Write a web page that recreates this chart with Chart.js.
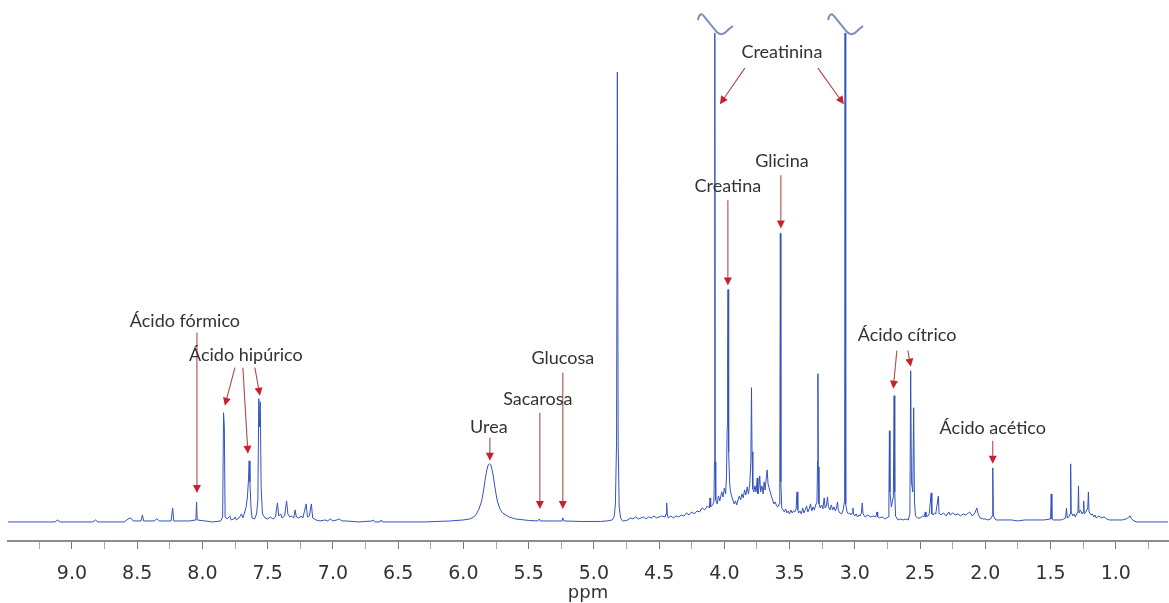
<!DOCTYPE html>
<html>
<head>
<meta charset="utf-8">
<script src="https://cdn.jsdelivr.net/npm/chart.js@4.4.1/dist/chart.umd.min.js"></script>
<style>
  html, body { margin: 0; padding: 0; background: #fff; }
  #wrap { width: 1169px; height: 603px; }
</style>
</head>
<body>
<div id="wrap"><canvas id="nmrChart"></canvas></div>
<script>
// espectro 1H RMN, [ppm, intensidad]
var regionAromatica = [
    [9.49,0],[9.13,0],[9.11,2],[9.09,0],[8.84,0],[8.82,2],[8.80,0],[8.60,0],[8.57,3],[8.55,4],[8.53,1],
    [8.47,1],[8.46,7],[8.45,1],[8.37,1],[8.35,3],[8.33,1],[8.24,1],[8.228,14],[8.22,1],[8.10,1],
    [8.05,2],[8.045,20],[8.04,2],[7.98,1],[7.92,0],[7.86,1],[7.845,5],[7.838,109],[7.832,95],[7.826,5],
    [7.81,3],[7.79,6],[7.78,2],[7.76,3],[7.75,5],[7.74,2],[7.72,4],[7.70,8],[7.69,4],[7.68,8],
    [7.665,15],[7.655,25],[7.647,42],[7.642,61],[7.636,40],[7.628,15],[7.62,4],[7.60,3],[7.585,8],
    [7.575,22],[7.568,123],[7.562,95],[7.557,120],[7.55,35],[7.54,8],[7.52,4],[7.50,3],[7.48,5],
    [7.46,3],[7.44,5],[7.425,19],[7.415,6],[7.40,8],[7.39,4],[7.37,6],[7.355,21],[7.345,8],[7.33,5],
    [7.32,6],[7.30,4],[7.29,12],[7.28,5],[7.26,4],[7.245,6],[7.23,4],[7.205,18],[7.195,5],[7.18,6],
    [7.165,18],[7.155,4],[7.13,2],[7.10,1],[7.06,2],[7.04,1],[7.02,3],[7.00,1],[6.97,2],[6.95,3],
    [6.93,1],[6.90,1],[6.80,0],[6.70,1],[6.69,2],[6.68,0],[6.64,0],[6.63,2],[6.62,0],[6.30,0]
];
var regionUrea = [
    [6.20,0.5],[6.10,1],[6.00,2],[5.95,3],[5.92,5],[5.90,8],[5.88,13],[5.86,21],[5.85,28],[5.84,36],
    [5.83,45],[5.82,52],[5.81,57],[5.80,58],[5.79,57],[5.78,52],[5.77,45],[5.76,36],[5.75,28],
    [5.74,21],[5.72,13],[5.70,9],[5.65,5],[5.60,3],[5.50,1.5],[5.43,1],[5.418,3],[5.41,1],
    [5.30,1],[5.245,1],[5.238,4],[5.23,1],[5.10,0.5],[4.95,0.5]
];
var regionAgua = [
    [4.90,1],[4.86,2],[4.845,5],[4.835,18],[4.826,80],[4.82,449],[4.814,80],[4.806,15],[4.795,4],[4.78,1]
];
var regionCreatina = [
    [4.77,1],[4.74,2],[4.72,4],[4.70,3],[4.68,5],[4.66,3],[4.64,4],[4.62,5],[4.60,3],[4.58,5],[4.56,4],
    [4.54,6],[4.52,4],[4.50,5],[4.48,6],[4.455,5],[4.447,8],[4.442,19],[4.437,7],[4.43,4],[4.41,6],
    [4.39,4],[4.37,6],[4.35,5],[4.33,7],[4.31,6],[4.29,9],[4.27,7],[4.25,10],[4.23,8],[4.21,11],
    [4.19,10],[4.17,14],[4.15,12],[4.13,16],[4.115,14],[4.11,24],[4.105,15],[4.09,17],[4.08,20],
    [4.076,60],[4.073,488],[4.07,60],[4.066,22],[4.055,18],[4.045,26],[4.035,21],[4.02,30],[4.01,25],
    [4.00,34],[3.99,28],[3.984,45],[3.978,95],[3.975,165],[3.972,232],[3.969,150],[3.965,70],
    [3.96,40],[3.955,32],[3.945,26],[3.935,22],[3.925,18],[3.915,21],[3.905,17],[3.895,22],[3.885,26],
    [3.875,22],[3.865,28],[3.855,24],[3.845,32],[3.835,27],[3.825,35],[3.815,28],[3.805,38],
    [3.797,60],[3.792,134],[3.788,70],[3.782,33],[3.774,30],[3.765,36],[3.757,30],[3.748,44],
    [3.743,28],[3.735,34],[3.729,46],[3.722,30],[3.712,36],[3.703,28],[3.695,40],[3.688,32],
    [3.68,42],[3.672,52],[3.665,38],[3.657,34],[3.648,30],[3.64,26],[3.63,22],[3.62,18],[3.61,20],
    [3.60,16],[3.59,15],[3.58,18],[3.575,40],[3.571,288],[3.567,40],[3.56,14],[3.55,12]
];
var regionMedia = [
    [3.54,10],[3.53,13],[3.52,9],[3.51,11],[3.50,8],[3.49,12],[3.48,9],[3.47,11],[3.46,10],[3.45,13],
    [3.443,30],[3.437,12],[3.43,9],[3.42,11],[3.41,8],[3.40,14],[3.39,9],[3.38,12],[3.37,16],[3.36,10],
    [3.35,13],[3.34,18],[3.33,11],[3.32,15],[3.31,12],[3.30,17],[3.29,20],[3.286,60],[3.283,148],
    [3.28,55],[3.275,18],[3.265,14],[3.255,17],[3.245,13],[3.235,24],[3.228,14],[3.218,16],[3.21,25],
    [3.202,15],[3.19,12],[3.18,17],[3.17,12],[3.16,15],[3.15,11],[3.14,14],[3.133,20],[3.127,12],
    [3.115,9],[3.10,8],[3.09,12],[3.08,20],[3.078,60],[3.075,488],[3.072,60],[3.068,18],[3.06,10],
    [3.05,8],[3.04,9],[3.03,7],[3.02,9],[3.015,14],[3.01,8],[3.00,6],[2.99,8],[2.98,5],[2.97,7],
    [2.96,6],[2.95,9],[2.943,19],[2.937,8],[2.92,5],[2.90,7],[2.88,5],[2.86,6],[2.84,5],[2.83,10],
    [2.825,5],[2.81,4],[2.79,5],[2.77,3],[2.755,4]
];
var regionCitrico = [
    [2.745,5],[2.739,20],[2.735,91],[2.731,30],[2.72,15],[2.705,25],[2.699,126],[2.694,30],[2.688,6],
    [2.67,2],[2.65,3],[2.63,2],[2.61,3],[2.59,2],[2.578,8],[2.572,151],[2.566,40],[2.556,30],
    [2.549,114],[2.543,20],[2.535,6],[2.52,4]
];
var regionAlifatica = [
    [2.50,4],[2.48,6],[2.47,5],[2.46,10],[2.455,5],[2.44,6],[2.43,8],[2.415,29],[2.41,8],[2.40,7],
    [2.39,9],[2.38,8],[2.36,26],[2.355,9],[2.34,7],[2.32,9],[2.30,6],[2.28,10],[2.27,7],[2.25,9],
    [2.23,7],[2.21,8],[2.19,6],[2.17,8],[2.15,7],[2.13,9],[2.12,10],[2.10,6],[2.08,9],[2.065,14],
    [2.055,8],[2.04,4],[2.02,3],[2.00,3],[1.98,2],[1.96,3],[1.948,6],[1.943,54],[1.938,6],[1.92,2],
    [1.90,2],[1.85,2],[1.80,2],[1.75,1],[1.70,2],[1.65,2],[1.60,2],[1.55,2],[1.50,3],[1.495,28],
    [1.49,3],[1.48,2],[1.45,2],[1.42,2],[1.40,3],[1.385,4],[1.378,14],[1.372,4],[1.36,5],[1.35,8],
    [1.346,58],[1.342,10],[1.33,6],[1.32,8],[1.31,5],[1.30,8],[1.29,10],[1.286,36],[1.282,9],
    [1.27,12],[1.26,8],[1.25,10],[1.246,21],[1.242,8],[1.23,10],[1.215,14],[1.21,30],[1.205,10],
    [1.19,7],[1.18,8],[1.17,5],[1.16,7],[1.15,4],[1.13,6],[1.11,4],[1.09,5],[1.07,3],[1.05,2],
    [1.00,2],[0.95,2],[0.92,3],[0.90,5],[0.89,6],[0.88,3],[0.86,1],[0.84,0],[0.80,0],[0.60,0]
];

// etiquetas de metabolitos (posicion del texto en ppm / intensidad)
var etiquetas = ['Ácido fórmico', 'Ácido hipúrico', 'Urea', 'Sacarosa', 'Glucosa',
                 'Creatina', 'Glicina', 'Creatinina', 'Ácido cítrico', 'Ácido acético'];
var etiquetaPpm = [8.134, 7.667, 5.805, 5.43, 5.238, 3.973, 3.559, 3.559, 2.60, 1.943];
var etiquetaInt = [200, 166, 95, 123, 163, 335, 360, 469, 186, 94];
// flechas: [ppm inicio, int inicio, ppm punta, int punta]
var flechas = [
    [8.042, 189, 8.042, 29],
    [7.751, 154, 7.828, 116],
    [7.690, 154, 7.651, 68],
    [7.598, 154, 7.559, 126],
    [5.797, 84, 5.797, 61],
    [5.414, 109, 5.414, 13],
    [5.238, 149, 5.238, 13],
    [3.973, 321, 3.973, 236],
    [3.567, 346, 3.567, 293],
    [3.843, 453, 4.034, 417],
    [3.283, 453, 3.084, 417],
    [2.678, 171, 2.706, 133],
    [2.594, 171, 2.571, 155],
    [1.943, 81, 1.943, 58]
];
// picos cortados (creatinina)
var picosCortados = [4.073, 3.075];

var espectro = [].concat(regionAromatica, regionUrea, regionAgua, regionCreatina,
    regionMedia, regionCitrico, regionAlifatica);

var anotaciones = {
    id: 'anotaciones',
    afterDatasetsDraw: function(chart){
        var ctx = chart.ctx;
        var xs = chart.scales.x, ys = chart.scales.y;
        ctx.save();
        // simbolo de corte
        ctx.strokeStyle = '#7d8db5';
        ctx.lineWidth = 2;
        for (var k = 0; k < picosCortados.length; k++){
            var px = xs.getPixelForValue(picosCortados[k]);
            var py = ys.getPixelForValue(488);
            ctx.beginPath();
            ctx.moveTo(px - 17, py - 13);
            ctx.quadraticCurveTo(px - 15, py - 22, px - 11, py - 17);
            ctx.lineTo(px + 2, py - 1);
            ctx.quadraticCurveTo(px + 7, py + 4, px + 13, py - 3);
            ctx.lineTo(px + 18, py - 7);
            ctx.stroke();
        }
        // flechas
        for (var i = 0; i < flechas.length; i++){
            var f = flechas[i];
            var x1 = xs.getPixelForValue(f[0]), y1 = ys.getPixelForValue(f[1]);
            var x2 = xs.getPixelForValue(f[2]), y2 = ys.getPixelForValue(f[3]);
            var ang = Math.atan2(y2 - y1, x2 - x1);
            ctx.strokeStyle = '#b04a4a';
            ctx.lineWidth = 1.1;
            ctx.beginPath();
            ctx.moveTo(x1, y1);
            ctx.lineTo(x2 - 6 * Math.cos(ang), y2 - 6 * Math.sin(ang));
            ctx.stroke();
            ctx.fillStyle = '#c8202c';
            ctx.beginPath();
            ctx.moveTo(x2, y2);
            ctx.lineTo(x2 - 8 * Math.cos(ang) + 4 * Math.sin(ang), y2 - 8 * Math.sin(ang) - 4 * Math.cos(ang));
            ctx.lineTo(x2 - 8 * Math.cos(ang) - 4 * Math.sin(ang), y2 - 8 * Math.sin(ang) + 4 * Math.cos(ang));
            ctx.closePath();
            ctx.fill();
        }
        // textos
        ctx.font = '18px Lato';
        ctx.fillStyle = '#333333';
        ctx.textAlign = 'center';
        ctx.textBaseline = 'middle';
        for (var j = 0; j < etiquetas.length; j++){
            ctx.fillText(etiquetas[j], xs.getPixelForValue(etiquetaPpm[j]), ys.getPixelForValue(etiquetaInt[j]));
        }
        ctx.restore();
    }
};

var ctxNmr = document.getElementById('nmrChart');
var nmrChart = new Chart(ctxNmr, {
    type: 'line',
    data: {
        datasets: [{
            label: 'RMN',
            data: espectro.map(function(p){ return {x: p[0], y: p[1]}; }),
            borderColor: 'rgb(52, 82, 190)',
            borderWidth: 1,
            pointRadius: 0,
            tension: 0,
            fill: false
        }]
    },
    options: {
        responsive: true,
        maintainAspectRatio: false,
        animation: false,
        layout: { padding: { left: 8, right: 1, top: 0, bottom: 0 } },
        plugins: { legend: { display: false }, tooltip: { enabled: false } },
        scales: {
            x: {
                type: 'linear',
                reverse: true,
                min: 0.6,
                max: 9.49,
                border: { display: true, color: '#8c8c8c', width: 2 },
                grid: {
                    drawOnChartArea: false,
                    drawTicks: true,
                    tickLength: 8,
                    tickColor: function(c){
                        var v = c.tick ? c.tick.value : 0;
                        return Math.abs(v * 2 - Math.round(v * 2)) < 1e-6 ? '#777' : '#aaa';
                    }
                },
                ticks: {
                    stepSize: 0.25,
                    includeBounds: false,
                    autoSkip: false,
                    maxRotation: 0,
                    padding: 16,
                    color: '#333',
                    font: { family: 'DejaVu Sans', size: 19, lineHeight: 1 },
                    callback: function(value){
                        return Math.abs(value * 2 - Math.round(value * 2)) < 1e-6 ? value.toFixed(1) : '';
                    }
                },
                title: {
                    display: true,
                    text: 'ppm',
                    color: '#333',
                    font: { family: 'DejaVu Sans', size: 18, lineHeight: 1 },
                    padding: { top: -16, bottom: 1 }
                }
            },
            y: {
                display: false,
                min: -19,
                max: 521
            }
        }
    },
    plugins: [anotaciones]
});
</script>
</body>
</html>
